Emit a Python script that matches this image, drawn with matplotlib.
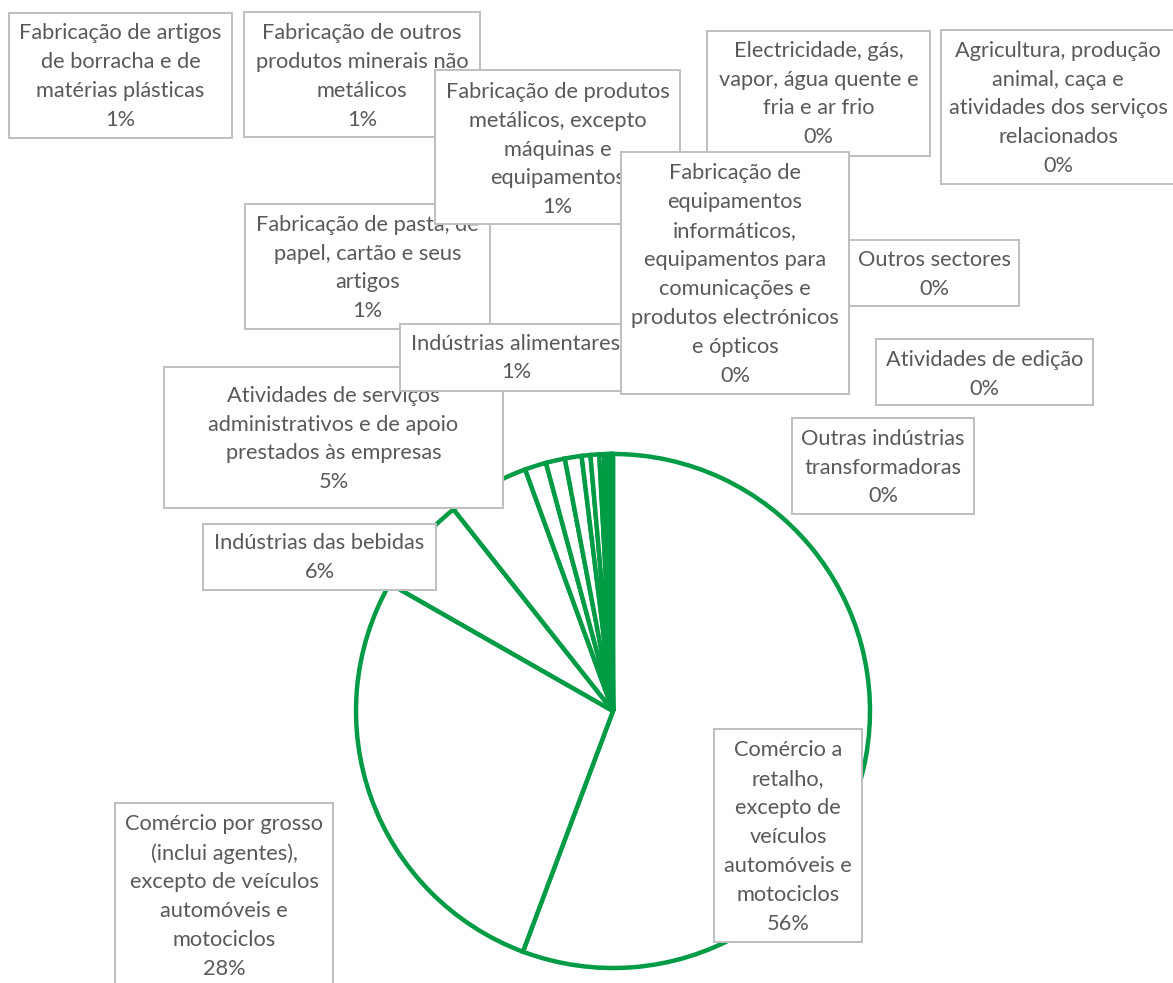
import matplotlib
matplotlib.use("Agg")
import matplotlib.pyplot as plt
from matplotlib.patches import Rectangle

plt.rcParams["font.family"] = ["Lato", "DejaVu Sans"]

# sector shares (pie order, clockwise from 12 o'clock)
categories = [
    "Comércio a\nretalho,\nexcepto de\nveículos\nautomóveis e\nmotociclos",
    "Comércio por grosso\n(inclui agentes),\nexcepto de veículos\nautomóveis e\nmotociclos",
    "Indústrias das bebidas",
    "Atividades de serviços\nadministrativos e de apoio\nprestados às empresas",
    "Indústrias alimentares",
    "Fabricação de pasta, de\npapel, cartão e seus\nartigos",
    "Fabricação de artigos\nde borracha e de\nmatérias plásticas",
    "Fabricação de outros\nprodutos minerais não\nmetálicos",
    "Fabricação de produtos\nmetálicos, excepto\nmáquinas e\nequipamentos",
    "Electricidade, gás,\nvapor, água quente e\nfria e ar frio",
    "Agricultura, produção\nanimal, caça e\natividades dos serviços\nrelacionados",
    "Fabricação de\nequipamentos\ninformáticos,\nequipamentos para\ncomunicações e\nprodutos electrónicos\ne ópticos",
    "Outros sectores",
    "Atividades de edição",
    "Outras indústrias\ntransformadoras",
]
values = [55.7, 27.55, 6.1, 5.1, 1.35, 1.2, 1.05, 0.55, 0.55,
          0.3, 0.2, 0.15, 0.1, 0.05, 0.05]

# label boxes in pixel coords (x0, y0, x1, y1), text centre y
label_box = [
    (714, 729, 862, 942, 837),
    (115, 803, 333, 995, 896.5),
    (203, 524, 436, 590, 557.5),
    (164, 367, 503, 508, 439),
    (400, 324, 632, 391, 358),
    (245, 204, 490, 329, 268),
    (9, 13, 232, 138, 76.5),
    (244, 12, 480, 137, 76.5),
    (435, 70, 680, 224, 149.5),
    (707, 31, 930, 156, 94),
    (941, 30, 1175, 184, 108.5),
    (621, 152, 849, 394, 274.5),
    (849, 240, 1019, 306, 274.5),
    (876, 339, 1093, 405, 374.5),
    (792, 418, 974, 514, 467.5),
]
# drawing order of the labels (later ones sit on top)
draw_order = [0, 1, 2, 3, 6, 7, 5, 8, 4, 9, 10, 11, 12, 13, 14]

GREEN = "#009B45"
TXT = "#595959"
EDGE = "#BFBFBF"
W, H = 1173, 983

fig = plt.figure(figsize=(W / 100, H / 100), dpi=100)
ax = fig.add_axes([0, 0, 1, 1])

ax.pie(values, center=(613, 711), radius=257, startangle=-90,
       counterclock=True, colors=["white"] * len(values),
       wedgeprops=dict(edgecolor=GREEN, linewidth=3.2, joinstyle="miter"),
       frame=True)

total = sum(values)
for k, i in enumerate(draw_order):
    x0, y0, x1, y1, ty = label_box[i]
    z = 10 + 2 * k
    ax.add_patch(Rectangle((x0, y0), x1 - x0, y1 - y0, facecolor="white",
                           edgecolor=EDGE, linewidth=1.4, zorder=z))
    pct = int(values[i] / total * 100 + 0.5)
    ax.text((x0 + x1) / 2, ty, f"{categories[i]}\n{pct}%", ha="center",
            va="center", fontsize=15.7, color=TXT, linespacing=1.56,
            zorder=z + 1)

ax.set_xlim(0, W)
ax.set_ylim(H, 0)
ax.set_aspect("auto")
ax.axis("off")

fig.savefig("out.png", dpi=100, facecolor="white")
